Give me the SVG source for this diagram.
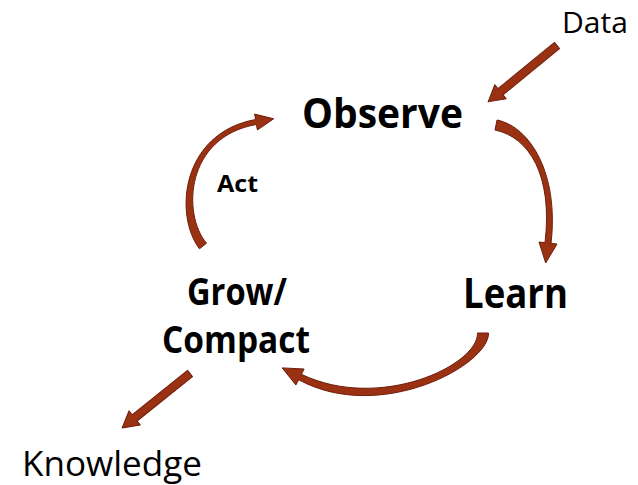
<svg xmlns="http://www.w3.org/2000/svg" width="638" height="485" viewBox="0 0 638 485">
  <style>
    .lbl { font-family: "Open Sans", "Liberation Sans", sans-serif; fill: #000; }
    .b { font-weight: bold; }
    .arrow { fill: #9a3112; stroke: #6e1e0a; stroke-width: 1; stroke-linejoin: round; }
  </style>
  <rect width="638" height="485" fill="#fff"/>

  <g id="connectors">
    <!-- Data into Observe -->
    <path class="arrow" transform="translate(557,45.5) rotate(140.7)" d="M0,-4 H73 V-9 L89,0 L73,9 V4 H0 Z"/>
    <!-- Observe to Learn -->
    <path class="arrow" d="M497,120 C531,127 559,175 551,243.4 L557,244 L545.7,263 L539,242 L545,242.6 C553,175 529,137 495,130 Z"/>
    <!-- Learn to Grow/Compact -->
    <path class="arrow" d="M488.5,333 C489.5,365 380,424 298.6,379.7 L295.9,385 L282.2,367.9 L304.1,369 L301.4,374.3 C380,412 478.5,365 477.5,333 Z"/>
    <!-- Act: Grow/Compact back to Observe -->
    <path class="arrow" d="M199.5,248.8 C174,215.7 180.7,133.1 255.6,119.5 L254.6,114.1 L273.7,118.8 L257.4,129.9 L256.4,124.5 C185.3,136.9 182,214.3 206.5,243.2 Z"/>
    <!-- Grow/Compact out to Knowledge -->
    <path class="arrow" transform="translate(190,373.5) rotate(141.3)" d="M0,-4 H71 V-9 L87,0 L71,9 V4 H0 Z"/>
  </g>

  <g id="observe"><text class="lbl b" x="302" y="128" font-size="41" textLength="161" lengthAdjust="spacingAndGlyphs">Observe</text></g>
  <g id="learn"><text class="lbl b" x="463" y="308" font-size="41" textLength="105" lengthAdjust="spacingAndGlyphs">Learn</text></g>
  <g id="grow-compact">
    <text class="lbl b" x="187" y="305" font-size="37" textLength="100" lengthAdjust="spacingAndGlyphs">Grow/</text>
    <text class="lbl b" x="162" y="353" font-size="37" textLength="148" lengthAdjust="spacingAndGlyphs">Compact</text>
  </g>
  <g id="act"><text class="lbl b" x="217" y="192" font-size="23" textLength="41" lengthAdjust="spacingAndGlyphs">Act</text></g>
  <g id="data"><text class="lbl" x="562" y="33" font-size="29" textLength="66" lengthAdjust="spacingAndGlyphs">Data</text></g>
  <g id="knowledge"><text class="lbl" x="22" y="476" font-size="34" textLength="180" lengthAdjust="spacingAndGlyphs">Knowledge</text></g>
</svg>
